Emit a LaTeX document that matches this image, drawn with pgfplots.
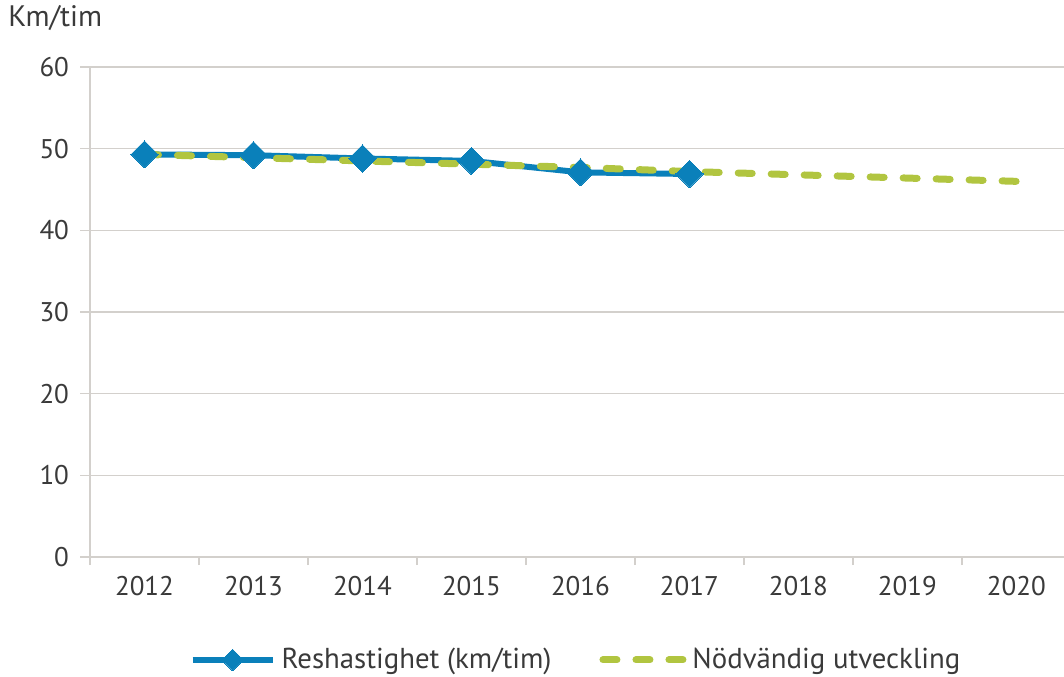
\documentclass[border=0pt]{standalone}
\usepackage{pgfplots}
\pgfplotsset{compat=1.18}
\usepackage{fontspec}
\setmainfont{PT Sans}
\definecolor{txt}{HTML}{3A3A3A}
\definecolor{gridc}{HTML}{D3D0CC}
\definecolor{blueline}{HTML}{0A80BA}
\definecolor{greenline}{HTML}{B1C540}
\begin{document}
\begin{tikzpicture}
\useasboundingbox (-45pt,-59.5pt) rectangle (487pt,278.5pt);
\begin{axis}[
  at={(0,0)}, anchor=origin,
  scale only axis,
  width=487pt, height=245pt,
  xmin=2011.5, xmax=2020.436,
  ymin=0, ymax=60,
  ytick={0,10,...,60},
  xtick={2012,...,2020},
  minor xtick={2011.5,2012.5,...,2019.5},
  xtick pos=bottom, ytick pos=left,
  tick align=outside,
  major tick length=5pt,
  minor tick length=4pt,
  major x tick style={draw=none},
  every tick/.style={gridc, line width=0.8pt},
  minor x tick style={gridc, line width=0.8pt},
  ymajorgrids,
  grid style={gridc, line width=0.8pt},
  axis line style={gridc, line width=0.8pt},
  axis x line*=bottom, axis y line*=left,
  x axis line style={-}, y axis line style={-},
  tick label style={font=\fontsize{13.5}{15}\selectfont, color=txt},
  /pgf/number format/assume math mode=true,
  xticklabel style={/pgf/number format/1000 sep={}, yshift=-1pt},
  yticklabel style={xshift=-2pt},
  legend columns=2,
  legend style={draw=none, fill=none, at={(0.5,-0.21)}, anchor=center,
    font=\fontsize{14.4}{16}\selectfont, text=txt,
    /tikz/every odd column/.append style={column sep=1pt},
    /tikz/every even column/.append style={column sep=22pt}},
  legend image code/.code={
    \draw[#1] (0cm,0cm) -- (40pt,0cm);
    \path[#1, solid, mark size=3.8pt] plot coordinates {(20pt,0cm)};
  },
  clip=false,
]
\addplot[blueline, line width=3pt, mark=square*, mark size=4.8pt,
  mark options={rotate=45, solid, fill=blueline, draw=blueline, line width=0pt}]
  coordinates {(2012,49.3) (2013,49.2) (2014,48.8) (2015,48.5) (2016,47.1) (2017,46.9)};
\addlegendentry{Reshastighet (km/tim)}
\addplot[greenline, line width=3.5pt, line cap=round, dash pattern=on 7pt off 9.5pt, mark=none]
  coordinates {(2012,49.3) (2013,48.9) (2014,48.5) (2015,48.1) (2016,47.7) (2017,47.2) (2018,46.8) (2019,46.4) (2020,46.0)};
\addlegendentry{Nödvändig utveckling}
\end{axis}
\node[anchor=west, font=\fontsize{14.8}{16}\selectfont, text=txt, inner sep=0pt] at (-41pt,269.5pt) {Km/tim};
\end{tikzpicture}
\end{document}
